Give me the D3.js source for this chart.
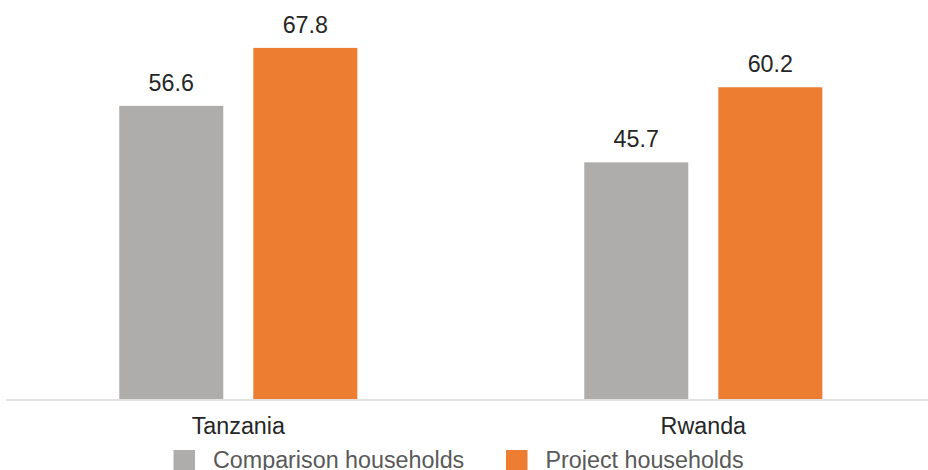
<!DOCTYPE html>
<html>
<head>
<meta charset="utf-8">
<script src="https://cdn.jsdelivr.net/npm/d3@7"></script>
<style>
  html, body { margin: 0; padding: 0; background: #fff; }
  svg { display: block; font-family: "Liberation Sans", Arial, sans-serif; }
</style>
</head>
<body>
<svg id="chart" width="928" height="470"></svg>
<script>
// Countries along the x axis
const categories = ["Tanzania", "Rwanda"];
// Household groups shown side by side
const seriesNames = ["Comparison households", "Project households"];
const seriesColors = ["#AEADAB", "#ED7D31"];
// Values per series, in category order
const comparisonValues = [56.6, 45.7];
const projectValues = [67.8, 60.2];

const seriesValues = [comparisonValues, projectValues];
const rows = categories.map((c, i) => ({
  category: c,
  values: seriesNames.map((s, j) => ({ series: s, value: seriesValues[j][i], color: seriesColors[j] }))
}));

const svg = d3.select("#chart");
const baseY = 399;
const topY = 36.5;
const fontSize = 23.3;

const x0 = d3.scaleBand().domain(categories).range([5.8, 935.8])
  .paddingInner(0.488).paddingOuter(0.244);
const x1 = d3.scaleBand().domain(seriesNames).range([0, x0.bandwidth()])
  .paddingInner(0.224).paddingOuter(0);
const y = d3.scaleLinear().domain([0, 70]).range([baseY, topY]);

// Grouped bars
const groups = svg.append("g").selectAll("g").data(rows).join("g")
  .attr("transform", d => `translate(${x0(d.category)},0)`);

groups.selectAll("rect").data(d => d.values).join("rect")
  .attr("x", d => x1(d.series))
  .attr("y", d => y(d.value))
  .attr("width", x1.bandwidth())
  .attr("height", d => y(0) - y(d.value))
  .attr("fill", d => d.color);

// Value labels above bars
groups.selectAll("text.val").data(d => d.values).join("text")
  .attr("class", "val")
  .attr("x", d => x1(d.series) + x1.bandwidth() / 2)
  .attr("y", d => y(d.value) - 15)
  .attr("text-anchor", "middle")
  .attr("font-size", fontSize)
  .attr("fill", "#262626")
  .text(d => d.value.toFixed(1));

// Category axis
const axis = svg.append("g")
  .attr("transform", `translate(0,${baseY + 0.5})`)
  .call(d3.axisBottom(x0).tickSize(0).tickSizeOuter(0).tickPadding(18));
axis.select(".domain").attr("stroke", "#D9D9D9").attr("stroke-width", 1.3);
axis.selectAll(".tick text")
  .attr("font-size", fontSize)
  .attr("font-family", "Liberation Sans, Arial, sans-serif")
  .attr("fill", "#262626");

// Legend
const legendX = [173.5, 506];
const legend = svg.append("g").selectAll("g").data(seriesNames).join("g")
  .attr("transform", (d, i) => `translate(${legendX[i]},450)`);
legend.append("rect")
  .attr("width", 21.5).attr("height", 21.5)
  .attr("fill", (d, i) => seriesColors[i]);
legend.append("text")
  .attr("x", 39.5).attr("y", 18.4)
  .attr("font-size", fontSize)
  .attr("fill", "#595959")
  .text(d => d);
</script>
</body>
</html>
